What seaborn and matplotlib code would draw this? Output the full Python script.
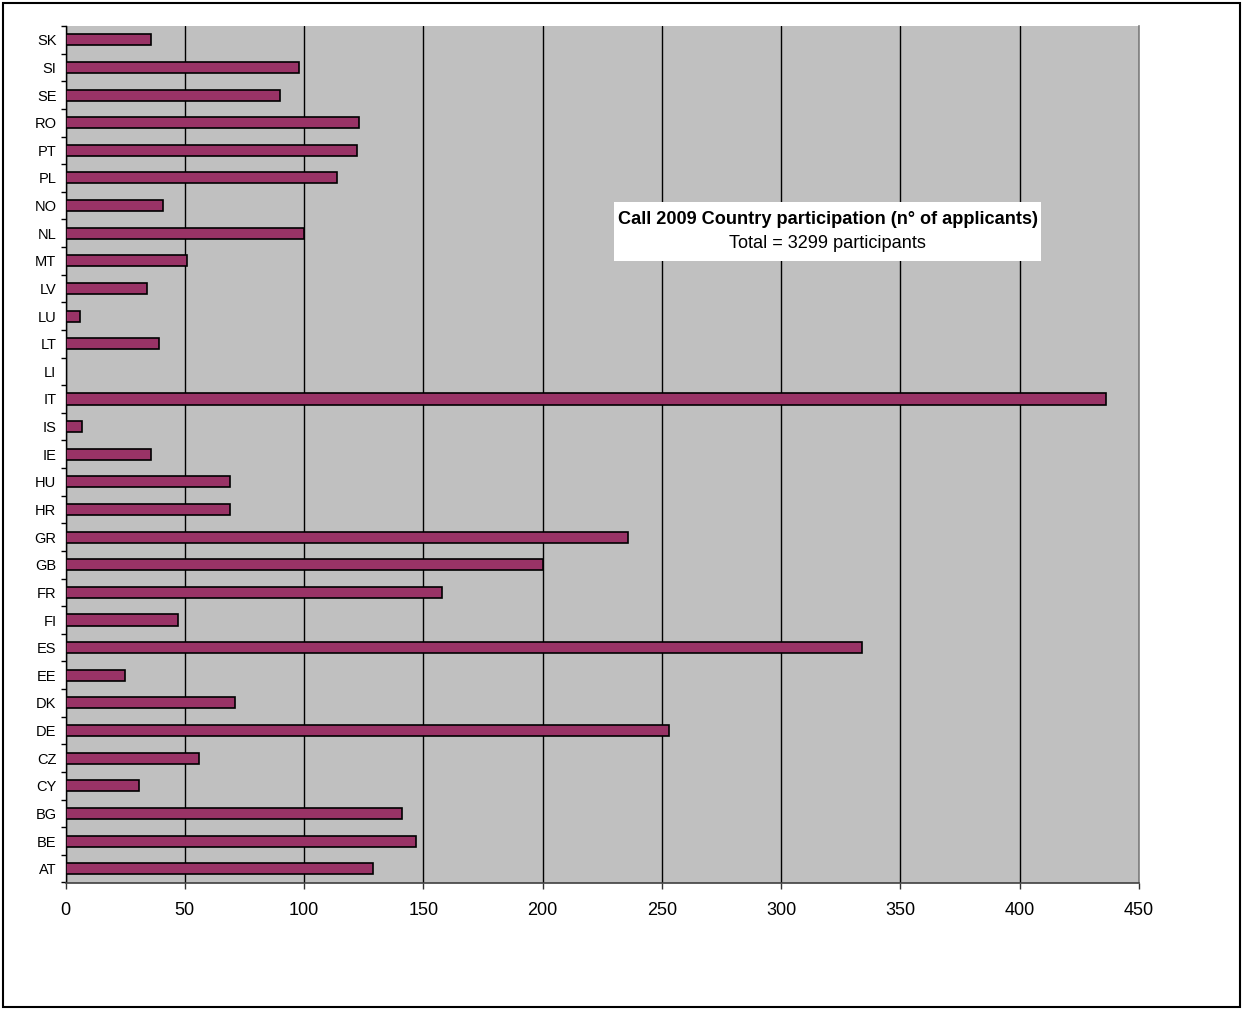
import matplotlib
matplotlib.use("Agg")
import matplotlib.pyplot as plt
import matplotlib.patches as mpatches
from matplotlib.ticker import FixedLocator
import seaborn as sns
import pandas as pd

countries = ["AT", "BE", "BG", "CY", "CZ", "DE", "DK", "EE", "ES", "FI", "FR",
             "GB", "GR", "HR", "HU", "IE", "IS", "IT", "LI", "LT", "LU", "LV",
             "MT", "NL", "NO", "PL", "PT", "RO", "SE", "SI", "SK"]
applicants = [129, 147, 141, 31, 56, 253, 71, 25, 334, 47, 158,
              200, 236, 69, 69, 36, 7, 436, 0, 39, 6, 34,
              51, 100, 41, 114, 122, 123, 90, 98, 36]
x_ticks = [0, 50, 100, 150, 200, 250, 300, 350, 400, 450]
title_line = "Call 2009 Country participation (n° of applicants)"
total_line = "Total = 3299 participants"

df = pd.DataFrame({"country": countries, "applicants": applicants})
order = countries[::-1]

sns.set_style("white")
plt.rcParams["font.family"] = ["Liberation Sans", "DejaVu Sans"]
plt.rcParams["text.color"] = "black"
plt.rcParams["xtick.labelcolor"] = "black"
plt.rcParams["ytick.labelcolor"] = "black"

W, H = 1243, 1010
fig = plt.figure(figsize=(W / 100, H / 100), dpi=100)
fig.patch.set_facecolor("white")

ax_l, ax_r, ax_t, ax_b = 65.5, 1139, 26, 882.5
ax = fig.add_axes([ax_l / W, 1 - ax_b / H, (ax_r - ax_l) / W, (ax_b - ax_t) / H])
ax.set_facecolor("#C0C0C0")

sns.barplot(data=df, x="applicants", y="country", order=order, orient="h",
            color="#993366", saturation=1, width=0.4,
            edgecolor="black", linewidth=1.2, ax=ax, zorder=3)

ax.set_xlim(0, 450)
ax.set_ylim(len(order) - 0.5, -0.5)
ax.xaxis.set_major_locator(FixedLocator(x_ticks))
ax.set_xticklabels([str(v) for v in x_ticks])
ax.grid(axis="x", color="black", linewidth=1.0, zorder=0)
ax.set_axisbelow(True)
ax.set_xlabel("")
ax.set_ylabel("")

# y ticks: labels at centers, tick marks at category boundaries
ax.yaxis.set_minor_locator(FixedLocator([i - 0.5 for i in range(len(order) + 1)]))
ax.tick_params(axis="y", which="major", length=0, pad=6.5, labelsize=10.5,
               labelcolor="black", left=True)
ax.tick_params(axis="y", which="minor", length=3.5, width=1, color="black",
               direction="out", left=True)
ax.tick_params(axis="x", which="major", length=4, width=1, color="#333333",
               direction="out", bottom=True, pad=10, labelsize=13, labelcolor="black")

ax.spines["top"].set_visible(False)
ax.spines["right"].set_color("#808080")
ax.spines["right"].set_linewidth(1.2)
ax.spines["left"].set_color("black")
ax.spines["left"].set_linewidth(1.0)
ax.spines["bottom"].set_color("#404040")
ax.spines["bottom"].set_linewidth(1.2)

# white annotation box
bx0, bx1, by0, by1 = 614, 1041, 202, 261
fig.patches.append(mpatches.Rectangle((bx0 / W, 1 - by1 / H), (bx1 - bx0) / W, (by1 - by0) / H,
                                      transform=fig.transFigure, facecolor="white",
                                      edgecolor="none", zorder=5))
fig.text(827.5 / W, 1 - 219 / H, title_line, ha="center", va="center",
         fontsize=13.1, fontweight="bold", color="black", zorder=6)
fig.text(827.5 / W, 1 - 244 / H, total_line, ha="center", va="center",
         fontsize=13.1, color="black", zorder=6)

# outer border
fig.patches.append(mpatches.Rectangle((3 / W, 3 / H), (W - 6) / W, (H - 6) / H,
                                      transform=fig.transFigure, facecolor="none",
                                      edgecolor="black", linewidth=1.5, zorder=10))

fig.savefig("out.png", dpi=100)
